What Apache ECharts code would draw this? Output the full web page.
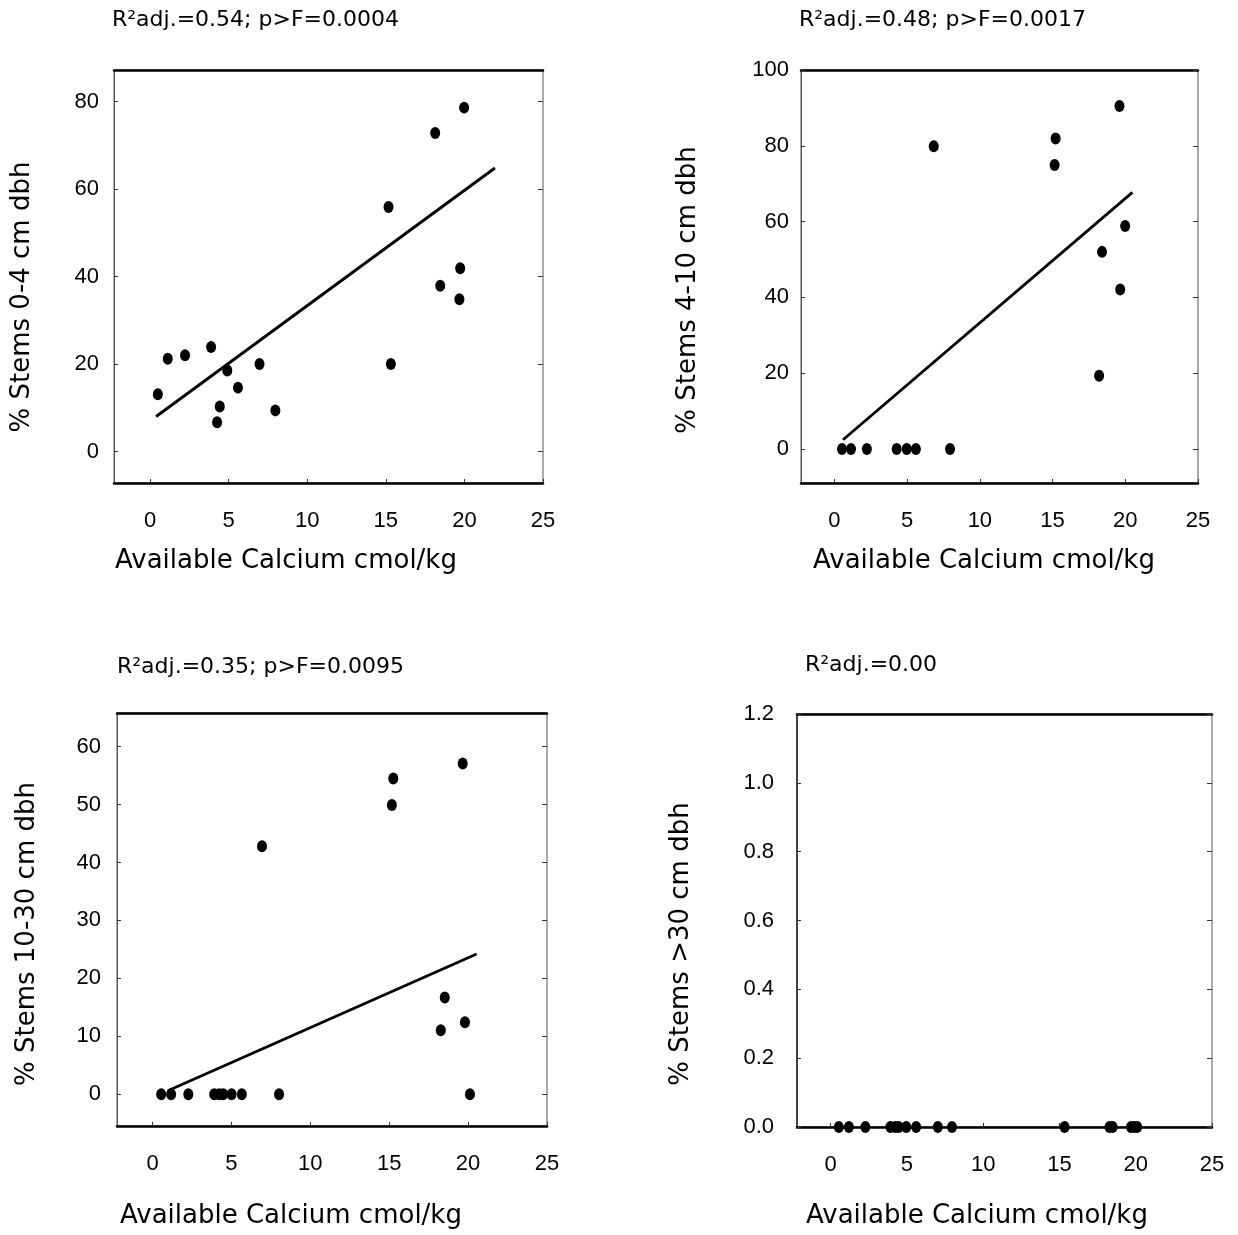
<!DOCTYPE html>
<html>
<head>
<meta charset="utf-8">
<title>Stem size classes vs available calcium</title>
<script src="https://cdn.jsdelivr.net/npm/echarts@6/dist/echarts.min.js"></script>
<style>
  html, body { margin: 0; padding: 0; background: #fff; }
  #chart { width: 1238px; height: 1235px; }
</style>
</head>
<body>
<div id="chart"></div>
<script>
// ---- data: available calcium (cmol/kg) vs % stems per diameter class ----
const xTicks = [0, 5, 10, 15, 20, 25];

// 0-4 cm dbh
const calcium1 = [0.49, 1.12, 2.22, 3.88, 4.91, 4.43, 4.26, 5.59, 6.96, 7.97, 15.17, 15.32, 18.14, 19.98, 19.73, 18.46, 19.68];
const stems0to4 = [13.1, 21.2, 22.0, 23.9, 18.5, 10.3, 6.7, 14.6, 20.0, 9.4, 55.9, 20.0, 72.8, 78.6, 41.9, 37.9, 34.8];
const fit1X = [0.38, 21.94];
const fit1Y = [8.0, 64.8];
const yTicks1 = [0, 20, 40, 60, 80];

// 4-10 cm dbh
const calcium2 = [0.52, 1.14, 2.23, 4.28, 4.97, 5.60, 7.95, 6.83, 15.21, 15.14, 19.60, 19.99, 18.40, 19.65, 18.20];
const stems4to10 = [0, 0, 0, 0, 0, 0, 0, 79.9, 81.9, 74.9, 90.5, 58.8, 52.0, 42.1, 19.3];
const fit2X = [0.59, 20.49];
const fit2Y = [2.4, 67.7];
const yTicks2 = [0, 20, 40, 60, 80, 100];

// 10-30 cm dbh
const calcium3 = [0.55, 1.18, 2.27, 3.91, 4.23, 4.48, 5.01, 5.66, 8.02, 20.12, 6.94, 15.26, 15.17, 19.66, 18.52, 18.27, 19.80];
const stems10to30 = [0, 0, 0, 0, 0, 0, 0, 0, 0, 0, 42.8, 54.5, 49.9, 57.1, 16.7, 11.05, 12.4];
const fit3X = [0.97, 20.54];
const fit3Y = [0.57, 24.2];
const yTicks3 = [0, 10, 20, 30, 40, 50, 60];

// >30 cm dbh
const calcium4 = [0.54, 1.20, 2.28, 3.92, 4.24, 4.46, 4.96, 5.61, 7.03, 7.96, 15.34, 18.28, 18.49, 19.69, 19.91, 20.10];
const stemsOver30 = [0, 0, 0, 0, 0, 0, 0, 0, 0, 0, 0, 0, 0, 0, 0, 0];
const yTicks4 = [0, 0.2, 0.4, 0.6, 0.8, 1.0, 1.2];

const panelTitles = ['R\u00B2adj.=0.54; p>F=0.0004', 'R\u00B2adj.=0.48; p>F=0.0017', 'R\u00B2adj.=0.35; p>F=0.0095', 'R\u00B2adj.=0.00'];
const yNames = ['% Stems 0-4 cm dbh', '% Stems 4-10 cm dbh', '% Stems 10-30 cm dbh', '% Stems >30 cm dbh'];
const xName = 'Available Calcium cmol/kg';

// ---- layout of the four panels ----
const panels = [
  { grid: { left: 114, top: 70, width: 429, height: 413 }, xMin: -2.3, yMin: -7.2, yMax: 87.2, yTicks: yTicks1, labelMargin: 15,
    xs: calcium1, ys: stems0to4, fitX: fit1X, fitY: fit1Y, decimals: 0,
    title: [112, 20], xNamePos: [115, 561], yNamePos: [22, 297] },
  { grid: { left: 801, top: 70, width: 397, height: 413 }, xMin: -2.3, yMin: -9, yMax: 100, yTicks: yTicks2, labelMargin: 12,
    xs: calcium2, ys: stems4to10, fitX: fit2X, fitY: fit2Y, decimals: 0,
    title: [799, 20], xNamePos: [813, 561], yNamePos: [688, 290] },
  { grid: { left: 117, top: 713, width: 430, height: 413 }, xMin: -2.25, yMin: -5.5, yMax: 65.8, yTicks: yTicks3, labelMargin: 16,
    xs: calcium3, ys: stems10to30, fitX: fit3X, fitY: fit3Y, decimals: 0,
    title: [117, 667], xNamePos: [120, 1216], yNamePos: [27, 934] },
  { grid: { left: 797, top: 714, width: 415, height: 413 }, xMin: -2.2, yMin: 0, yMax: 1.2, yTicks: yTicks4, labelMargin: 23,
    xs: calcium4, ys: stemsOver30, fitX: null, fitY: null, decimals: 1,
    title: [805, 665], xNamePos: [806, 1216], yNamePos: [681, 944] }
];

const tickFont = { fontFamily: '"Liberation Sans", Arial, sans-serif', fontSize: 22, color: '#000' };
const textFont = '26px "DejaVu Sans", sans-serif';
const titleFont = '22px "DejaVu Sans", sans-serif';

const grids = [], xAxes = [], yAxes = [], series = [], graphics = [];

panels.forEach((p, i) => {
  grids.push(Object.assign({ show: true, borderColor: '#555', borderWidth: 1, backgroundColor: 'transparent' }, p.grid));

  // bottom axis with labels, and a plain heavy rule along the top
  xAxes.push({
    type: 'value', gridIndex: i, min: p.xMin, max: 25, position: 'bottom',
    axisLine: { show: true, onZero: false, lineStyle: { color: '#000', width: 2.5 } },
    axisTick: { show: true, inside: true, length: 4, customValues: xTicks, lineStyle: { color: '#333' } },
    axisLabel: Object.assign({ customValues: xTicks, margin: 27 }, tickFont),
    splitLine: { show: false }
  });
  xAxes.push({
    type: 'value', gridIndex: i, min: p.xMin, max: 25, position: 'top',
    axisLine: { show: true, onZero: false, lineStyle: { color: '#000', width: 2.5 } },
    axisTick: { show: false }, axisLabel: { show: false }, splitLine: { show: false }
  });

  // left axis with labels, right side carries short ticks only
  yAxes.push({
    type: 'value', gridIndex: i, min: p.yMin, max: p.yMax, position: 'left',
    axisLine: { show: true, onZero: false, lineStyle: { color: i === 3 ? '#222' : '#555', width: i === 3 ? 1.5 : 1 } },
    axisTick: { show: true, inside: true, length: 4, customValues: p.yTicks, lineStyle: { color: '#333' } },
    axisLabel: Object.assign({
      customValues: p.yTicks, margin: p.labelMargin,
      formatter: v => v.toFixed(p.decimals)
    }, tickFont),
    splitLine: { show: false }
  });
  yAxes.push({
    type: 'value', gridIndex: i, min: p.yMin, max: p.yMax, position: 'right',
    axisLine: { show: false, onZero: false },
    axisTick: { show: true, inside: true, length: 5, customValues: p.yTicks, lineStyle: { color: '#333' } },
    axisLabel: { show: false }, splitLine: { show: false }
  });

  series.push({
    type: 'scatter', xAxisIndex: 2 * i, yAxisIndex: 2 * i, clip: false,
    symbol: 'circle', symbolSize: [10, 12],
    itemStyle: { color: '#000', opacity: 1 },
    data: p.xs.map((x, k) => [x, p.ys[k]])
  });
  if (p.fitX) {
    series.push({
      type: 'line', xAxisIndex: 2 * i, yAxisIndex: 2 * i,
      showSymbol: false, symbol: 'none',
      lineStyle: { color: '#000', width: 2.8 },
      data: p.fitX.map((x, k) => [x, p.fitY[k]])
    });
  }

  graphics.push({
    type: 'text', x: p.title[0], y: p.title[1],
    style: { text: panelTitles[i], font: titleFont, fill: '#000', textAlign: 'left', textVerticalAlign: 'middle' }
  });
  graphics.push({
    type: 'text', x: p.xNamePos[0], y: p.xNamePos[1],
    style: { text: xName, font: textFont, fill: '#000', textAlign: 'left', textVerticalAlign: 'middle' }
  });
  graphics.push({
    type: 'text', x: p.yNamePos[0], y: p.yNamePos[1], rotation: Math.PI / 2,
    style: { text: yNames[i], font: textFont, fill: '#000', textAlign: 'center', textVerticalAlign: 'middle' }
  });
});

const chart = echarts.init(document.getElementById('chart'), null, { renderer: 'canvas' });
chart.setOption({
  animation: false,
  backgroundColor: '#fff',
  grid: grids,
  xAxis: xAxes,
  yAxis: yAxes,
  series: series,
  graphic: graphics
});
</script>
</body>
</html>
